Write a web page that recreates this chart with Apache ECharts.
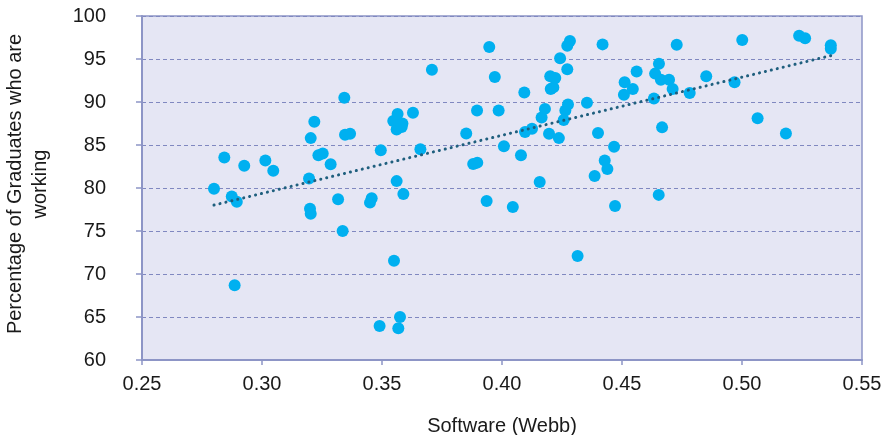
<!DOCTYPE html>
<html>
<head>
<meta charset="utf-8">
<script src="https://cdn.jsdelivr.net/npm/echarts@6/dist/echarts.min.js"></script>
<style>
  html, body { margin: 0; padding: 0; background: #fff; }
  #main { width: 888px; height: 435px; }
</style>
</head>
<body>
<div id="main"></div>
<script>
// Software (Webb) score for each point
var softwareWebb = [
  0.2800, 0.2843, 0.2874, 0.2886, 0.2895, 0.2926, 0.3014, 0.3047, 0.3196, 0.3200,
  0.3203, 0.3203, 0.3218, 0.3235, 0.3253, 0.3286, 0.3317, 0.3336, 0.3343, 0.3346,
  0.3367, 0.3450, 0.3457, 0.3490, 0.3495, 0.3550, 0.3547, 0.3561, 0.3565, 0.3561,
  0.3582, 0.3585, 0.3568, 0.3575, 0.3589, 0.3629, 0.3660, 0.3708, 0.3851, 0.3880,
  0.3897, 0.3896, 0.3936, 0.3947, 0.3970, 0.3986, 0.4008, 0.4045, 0.4079, 0.4093,
  0.4096, 0.4125, 0.4157, 0.4165, 0.4179, 0.4196, 0.4201, 0.4203, 0.4214, 0.4222,
  0.4237, 0.4242, 0.4257, 0.4264, 0.4272, 0.4272, 0.4283, 0.4275, 0.4315, 0.4354,
  0.4386, 0.4400, 0.4419, 0.4428, 0.4439, 0.4467, 0.4471, 0.4508, 0.4511, 0.4545,
  0.4561, 0.4633, 0.4638, 0.4653, 0.4654, 0.4662, 0.4667, 0.4696, 0.4711, 0.4728,
  0.4782, 0.4851, 0.4969, 0.5001, 0.5065, 0.5183, 0.5238, 0.5263, 0.5370, 0.5370
];
// percentage of graduates who are working, same order
var pctWorking = [
  79.9, 83.55, 79.0, 68.7, 78.4, 82.6, 83.2, 82.0, 81.1, 77.6,
  77.0, 85.8, 87.7, 83.8, 84.0, 82.75, 78.7, 75.0, 90.5, 86.2,
  86.3, 78.3, 78.8, 63.95, 84.4, 71.55, 87.8, 80.8, 88.6, 86.8,
  87.1, 87.5, 63.7, 65.0, 79.3, 88.75, 84.5, 93.75, 86.35, 82.8,
  82.95, 89.0, 78.5, 96.4, 92.9, 89.0, 84.85, 77.8, 83.8, 91.1,
  86.5, 86.9, 80.7, 88.2, 89.2, 86.3, 93.0, 91.5, 91.7, 92.8,
  85.8, 95.1, 87.9, 89.0, 93.8, 96.55, 97.1, 89.7, 72.1, 89.9,
  81.4, 86.4, 96.7, 83.2, 82.2, 84.8, 77.9, 90.85, 92.3, 91.5,
  93.55, 90.4, 93.3, 79.2, 94.45, 92.6, 87.05, 92.6, 91.5, 96.65,
  91.05, 93.0, 92.3, 97.2, 88.1, 86.35, 97.7, 97.4, 96.6, 96.2
];
var xTicks = [0.25, 0.30, 0.35, 0.40, 0.45, 0.50, 0.55];
var yTicks = [60, 65, 70, 75, 80, 85, 90, 95, 100];

var points = [];
for (var i = 0; i < softwareWebb.length; i++) {
  points.push([softwareWebb[i], pctWorking[i]]);
}

// linear trend line (least squares)
var n = points.length, sx = 0, sy = 0, sxx = 0, sxy = 0;
for (var i = 0; i < n; i++) {
  sx += softwareWebb[i]; sy += pctWorking[i];
  sxx += softwareWebb[i] * softwareWebb[i];
  sxy += softwareWebb[i] * pctWorking[i];
}
var slope = (n * sxy - sx * sy) / (n * sxx - sx * sx);
var intercept = (sy - slope * sx) / n;
var xMin = Math.min.apply(null, softwareWebb);
var xMax = Math.max.apply(null, softwareWebb);
var trend = [[xMin, intercept + slope * xMin], [xMax, intercept + slope * xMax]];

var font = 'Liberation Sans, Arial, sans-serif';
var axisColor = '#8d95c6';

var myChart = echarts.init(document.getElementById('main'));
var option = {
  animation: false,
  grid: {
    left: 142, right: 26, top: 16, bottom: 75,
    outerBoundsMode: 'none',
    containLabel: false,
    show: true,
    backgroundColor: '#e5e6f4',
    borderColor: axisColor,
    borderWidth: 1.5
  },
  xAxis: {
    type: 'value',
    min: xTicks[0], max: xTicks[xTicks.length - 1], interval: 0.05,
    name: 'Software (Webb)',
    nameLocation: 'middle',
    nameGap: 56,
    nameTextStyle: { fontFamily: font, fontSize: 20, color: '#1a1a1a' },
    axisLine: { show: true, lineStyle: { color: axisColor, width: 2 } },
    axisTick: { show: true, inside: false, length: 5, lineStyle: { color: axisColor, width: 1.5 } },
    axisLabel: {
      fontFamily: font, fontSize: 20, color: '#1a1a1a', margin: 14,
      formatter: function (v) { return v.toFixed(2); }
    },
    splitLine: { show: false }
  },
  yAxis: {
    type: 'value',
    min: yTicks[0], max: yTicks[yTicks.length - 1], interval: 5,
    name: 'Percentage of Graduates who are\nworking',
    nameLocation: 'middle',
    nameGap: 89,
    nameRotate: 90,
    nameTextStyle: { fontFamily: font, fontSize: 20, color: '#1a1a1a', lineHeight: 25, align: 'center', padding: [0, 0, 0, 8] },
    axisLine: { show: true, lineStyle: { color: axisColor, width: 2 } },
    axisTick: { show: true, inside: false, length: 6, lineStyle: { color: axisColor, width: 1.5 } },
    axisLabel: { fontFamily: font, fontSize: 20, color: '#1a1a1a', margin: 36 },
    splitLine: { show: true, lineStyle: { color: '#8088c0', type: [4, 3], width: 1 } }
  },
  series: [
    {
      type: 'scatter',
      name: 'Graduates',
      data: points,
      symbol: 'circle',
      symbolSize: 12,
      itemStyle: { color: '#00b0f0', opacity: 1 },
      z: 3
    },
    {
      type: 'line',
      name: 'Trend',
      data: trend,
      showSymbol: false,
      silent: true,
      lineStyle: { color: '#1f5f7e', width: 3, type: [0.1, 6], cap: 'round' },
      z: 4
    }
  ]
};
myChart.setOption(option, true);
</script>
</body>
</html>
